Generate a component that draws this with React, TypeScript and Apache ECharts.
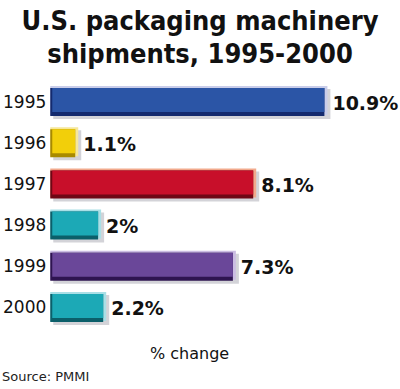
import React, { useEffect, useRef } from "react";
import * as echarts from "echarts";

const categories = ["1995", "1996", "1997", "1998", "1999", "2000"];
const values = [10.9, 1.1, 8.1, 2, 7.3, 2.2];
const valueLabels = ["10.9%", "1.1%", "8.1%", "2%", "7.3%", "2.2%"];
const faceColors = ["#2b55a6", "#f2cf0a", "#c80f2a", "#1ca9b6", "#6a4799", "#1ca9b6"];
const lightColors = ["#c9cdea", "#f6e79a", "#f2a98c", "#a9dfe6", "#cbbde2", "#a9dfe6"];
const darkColors = ["#142a6e", "#a88a00", "#6e0715", "#0b5f6a", "#2e1450", "#0b5f6a"];

export default function App() {
  const ref = useRef<HTMLDivElement>(null);
  useEffect(() => {
    if (!ref.current) return;
    const chart = echarts.init(ref.current, undefined, { renderer: "svg" });
    chart.setOption({
      animation: false,
      backgroundColor: "#ffffff",
      title: {
        text: "U.S. packaging machinery\nshipments, 1995-2000",
        left: "center",
        top: -1,
        textStyle: {
          fontFamily: "'DejaVu Sans Condensed', 'DejaVu Sans'",
          fontWeight: "bold",
          fontSize: 27,
          lineHeight: 33,
          color: "#111",
        },
      },
      grid: { left: 48, right: 19.2, top: 81, bottom: 61 },
      xAxis: {
        type: "value",
        min: 0,
        max: 13,
        show: false,
      },
      yAxis: {
        type: "category",
        data: categories,
        inverse: true,
        axisLine: { show: false },
        axisTick: { show: false },
        axisLabel: {
          margin: 4,
          color: "#111",
          fontFamily: "DejaVu Sans",
          fontSize: 17,
        },
      },
      series: [
        {
          type: "custom",
          encode: { x: 0, y: 1 },
          data: values.map((v, i) => [v, i]),
          renderItem: (params: any, api: any) => {
            const i = params.dataIndex;
            const v = api.value(0);
            const p0 = api.coord([0, i]);
            const p1 = api.coord([v, i]);
            const x0 = p0[0];
            const w = p1[0] - p0[0];
            const yc = p0[1];
            const h = 30;
            const yTop = yc - 15.5;
            return {
              type: "group",
              children: [
                { type: "rect", shape: { x: x0 + 3, y: yTop + 3, width: w, height: h }, style: { fill: "#d3d3d8" } },
                { type: "rect", shape: { x: x0, y: yTop, width: w, height: h - 1 }, style: { fill: lightColors[i] } },
                { type: "rect", shape: { x: x0, y: yTop + 2, width: w - 3, height: h - 2 }, style: { fill: darkColors[i] } },
                { type: "rect", shape: { x: x0 + 2, y: yTop + 2, width: w - 5, height: h - 6 }, style: { fill: faceColors[i] } },
                {
                  type: "text",
                  x: p1[0] + 5,
                  y: yc + 1,
                  style: {
                    text: valueLabels[i],
                    fill: "#111",
                    font: "bold 19px 'DejaVu Sans'",
                    textVerticalAlign: "middle",
                    textAlign: "left",
                  },
                },
              ],
            };
          },
        },
      ],
      graphic: [
        {
          type: "text",
          left: 150,
          top: 345,
          style: { text: "% change", fill: "#111", font: "16px 'DejaVu Sans'" },
        },
        {
          type: "text",
          left: 2,
          top: 370,
          style: { text: "Source: PMMI", fill: "#222", font: "13px 'DejaVu Sans'" },
        },
      ],
    });
    return () => chart.dispose();
  }, []);
  return (
    <div
      ref={ref}
      style={{ position: "fixed", left: 0, top: 0, width: 400, height: 389 }}
    />
  );
}
